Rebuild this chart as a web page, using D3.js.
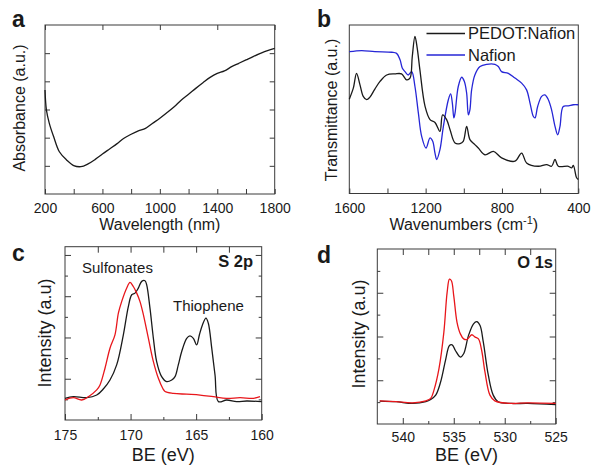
<!DOCTYPE html>
<head>
<script src="https://d3js.org/d3.v7.min.js"></script>
<meta charset="utf-8">
<style>
body { margin: 0; background: #fff; }
text { font-family: "Liberation Sans", Arial, sans-serif; fill: #1a1a1a; }
</style>
</head>
<body>
<svg id="fig"></svg>
<script>

// (a) UV-vis absorbance
var absWavelength = [200,210,230,260,300,350,400,450,500,550,600,650,700,750,800,850,900,950,1000,1050,1100,1150,1200,1250,1300,1350,1400,1450,1500,1550,1600,1650,1700,1750,1800];
var absValue = [3.69,2.98,2.51,2.04,1.50,1.21,1.01,0.97,1.07,1.23,1.42,1.60,1.78,1.98,2.12,2.24,2.33,2.51,2.69,2.89,3.10,3.34,3.54,3.75,3.95,4.14,4.28,4.37,4.52,4.64,4.76,4.88,4.99,5.09,5.17];

// (b) FTIR
var irPedotWn = [1600,1579,1562,1544,1527,1509,1492,1466,1439,1404,1361,1326,1300,1282,1270,1256,1244,1230,1203,1177,1151,1125,1111,1090,1072,1046,1020,1003,985,968,942,924,889,845,802,732,697,671,610,566,540,522,505,452,435,426,409,400];
var irPedotT = [3.36,3.75,4.28,3.87,3.46,3.34,3.43,3.72,3.99,4.22,4.26,4.26,4.05,4.11,4.88,5.59,5.17,4.40,3.10,2.63,2.53,2.21,2.80,2.63,2.27,1.80,1.78,1.86,2.39,1.92,1.74,1.62,1.38,1.50,1.27,1.15,1.44,1.09,0.97,1.03,0.97,1.21,0.97,0.97,0.91,1.00,0.56,0.50];
var irNafionWn = [1600,1535,1466,1378,1352,1334,1322,1308,1291,1273,1256,1238,1221,1198,1177,1163,1151,1142,1125,1107,1081,1069,1060,1052,1046,1029,1011,997,985,976,968,959,942,915,880,837,819,802,767,732,697,671,653,636,627,613,592,575,557,540,522,508,496,479,452,426,400];
var irNafionT = [5.05,5.09,5.05,5.03,4.99,4.76,4.46,4.34,4.22,4.34,3.81,2.86,2.04,1.62,1.98,1.86,1.44,1.21,1.56,2.39,3.34,3.55,3.22,2.69,2.86,3.81,4.14,3.99,3.57,2.80,2.98,3.69,4.22,4.52,4.60,4.60,4.52,4.34,4.28,4.11,3.93,3.69,3.22,2.75,2.69,3.10,3.46,3.51,3.34,2.98,2.39,2.09,2.39,3.10,3.12,3.16,3.16];

// (c) XPS S 2p
var s2pPedotBE = [175.0,174.36,173.35,172.58,172.08,171.57,171.06,170.55,170.17,169.91,169.66,169.41,169.15,168.90,168.77,168.52,168.26,168.01,167.63,167.25,166.86,166.61,166.36,166.10,165.72,165.47,165.21,164.96,164.75,164.52,164.25,164.07,163.81,163.56,163.30,162.67,161.91,161.14,160.0];
var s2pPedotI = [1.05,1.13,1.08,1.21,1.50,1.94,2.67,4.13,5.50,6.07,6.15,6.39,6.72,6.75,6.55,5.42,3.96,2.83,2.10,1.86,1.94,2.10,2.67,3.32,3.96,4.08,3.96,3.64,4.13,4.61,4.94,4.69,3.48,2.18,0.89,0.97,0.89,0.92,0.89];
var s2pNafionBE = [175.0,174.36,173.73,173.22,172.58,172.33,171.95,171.57,171.19,170.93,170.68,170.30,170.04,169.79,169.53,169.28,169.02,168.64,168.26,167.88,167.55,167.37,166.74,165.72,164.70,163.69,162.67,161.65,160.63,160.13];
var s2pNafionI = [0.97,1.08,0.97,1.13,1.46,1.70,2.51,3.48,4.13,5.18,5.74,6.39,6.67,6.47,6.15,5.74,5.10,3.96,2.83,2.02,1.54,1.38,1.29,1.25,1.21,1.13,1.05,1.08,1.05,1.13];

// (d) XPS O 1s
var o1sPedotBE = [542.26,540.65,539.03,537.74,537.26,536.77,536.29,535.81,535.42,535.16,534.84,534.35,534.03,533.55,533.06,532.74,532.42,532.10,531.61,531.13,530.65,529.35,527.74,525.0];
var o1sPedotI = [1.05,1.02,0.94,1.02,1.12,1.32,1.92,2.91,3.59,3.62,3.36,3.06,3.21,4.05,4.58,4.68,4.50,3.74,2.23,1.32,1.02,0.94,0.94,0.89];
var o1sNafionBE = [542.26,540.65,539.03,537.74,537.26,536.94,536.45,535.97,535.65,535.42,535.23,535.0,534.68,534.35,534.03,533.71,533.23,532.90,532.58,532.26,531.94,531.45,530.97,529.35,527.74,525.0];
var o1sNafionI = [1.06,1.02,0.97,1.06,1.17,1.55,2.53,4.20,6.02,6.62,6.55,5.86,4.65,4.12,3.89,3.86,4.08,3.97,3.89,3.36,2.38,1.32,1.06,0.94,0.97,0.94];

// tick labels
var absTicks = [200,600,1000,1400,1800];
var irTicks = [1600,1200,800,400];
var s2pTicks = [175,170,165,160];
var o1sTicks = [540,535,530,525];

var svg = d3.select("#fig").attr("width", 591).attr("height", 471);

var black = "#1a1a1a", red = "#e8161b", blue = "#2626d6", axisCol = "#3a3a3a";

function styleAxis(g, fs) {
    g.select(".domain").remove();
    g.selectAll("line").attr("stroke", axisCol);
    g.selectAll("text").attr("font-size", fs).attr("font-family", null).attr("fill", black);
}

function drawPanel(p) {
    var x = d3.scaleLinear().domain(p.xd).range(p.xr);
    var y = d3.scaleLinear().domain(p.yd).range(p.yr);
    var g = svg.append("g");

    // bottom labelled ticks
    g.append("g").attr("transform", "translate(0," + p.yr[0] + ")")
        .call(d3.axisBottom(x).tickValues(p.xlab).tickSize(-p.tl).tickPadding(p.pad).tickFormat(d3.format("d")))
        .call(styleAxis, "14px");
    if (p.xminor) {
        g.append("g").attr("transform", "translate(0," + p.yr[0] + ")")
            .call(d3.axisBottom(x).tickValues(p.xminor).tickSize(-p.tm).tickFormat(""))
            .call(styleAxis, "1px");
    }
    if (p.xtop) {
        g.append("g").attr("transform", "translate(0," + p.yr[1] + ")")
            .call(d3.axisTop(x).tickValues(p.xtop).tickSize(-p.tl).tickFormat(""))
            .call(styleAxis, "1px");
    }
    if (p.ymajor) {
        [["L", p.xr[0]], ["R", p.xr[1]]].forEach(function (s) {
            var mk = s[0] == "L" ? d3.axisLeft : d3.axisRight;
            g.append("g").attr("transform", "translate(" + s[1] + ",0)")
                .call(mk(y).tickValues(p.ymajor).tickSize(-p.tl).tickFormat(""))
                .call(styleAxis, "1px");
            if (p.yminor) {
                g.append("g").attr("transform", "translate(" + s[1] + ",0)")
                    .call(mk(y).tickValues(p.yminor).tickSize(-p.tm).tickFormat(""))
                    .call(styleAxis, "1px");
            }
        });
    }

    // frame
    g.append("rect")
        .attr("x", p.xr[0]).attr("y", p.yr[1])
        .attr("width", p.xr[1] - p.xr[0]).attr("height", p.yr[0] - p.yr[1])
        .attr("fill", "none").attr("stroke", axisCol).attr("stroke-width", 1);

    // curves
    p.series.forEach(function (s) {
        var pts = s.x.map(function (v, i) { return [v, s.y[i]]; });
        g.append("path")
            .datum(pts)
            .attr("fill", "none")
            .attr("stroke", s.color)
            .attr("stroke-width", 1.3)
            .attr("stroke-linejoin", "round")
            .attr("d", d3.line().x(function (d) { return x(d[0]); }).y(function (d) { return y(d[1]); })
                .curve(d3.curveCatmullRom.alpha(0.5)));
    });

    // panel letter
    g.append("text").attr("x", p.letter[1]).attr("y", p.letter[2])
        .attr("font-size", "23px").attr("font-weight", "bold").text(p.letter[0]);

    // axis titles
    var xt = g.append("text").attr("x", (p.xr[0] + p.xr[1]) / 2).attr("y", p.xtitleY)
        .attr("text-anchor", "middle").attr("font-size", p.tfs);
    xt.text(p.xtitle);
    if (p.xsup) {
        xt.append("tspan").attr("font-size", "11px").attr("dy", "-6").text(p.xsup);
        xt.append("tspan").attr("dy", "6").text(")");
    }
    g.append("text")
        .attr("transform", "translate(" + p.ytitle[1] + "," + p.ytitle[2] + ") rotate(-90)")
        .attr("text-anchor", "middle").attr("font-size", p.tfs).text(p.ytitle[0]);
    return g;
}

// (a)
drawPanel({
    xd: [200, 1800], xr: [45, 274.7], yd: [0, 6], yr: [194, 25],
    xlab: absTicks, xminor: [400, 800, 1200, 1600], xtop: absTicks,
    ymajor: [1, 2, 3, 4, 5], tl: 5, tm: 5, pad: 9.5,
    series: [{ x: absWavelength, y: absValue, color: black }],
    letter: ["a", 12, 27], tfs: "16px",
    xtitle: "Wavelength (nm)", xtitleY: 230,
    ytitle: ["Absorbance (a.u.)", 24.5, 108]
});

// (b)
var gb = drawPanel({
    xd: [1600, 400], xr: [349.3, 578.3], yd: [0, 6], yr: [193.5, 25],
    xlab: irTicks, xminor: [1400, 1000, 600], tl: 5, tm: 5, pad: 10,
    series: [{ x: irNafionWn, y: irNafionT, color: blue }, { x: irPedotWn, y: irPedotT, color: black }],
    letter: ["b", 317, 27], tfs: "16px",
    xtitle: "Wavenumbers (cm", xsup: "-1", xtitleY: 230,
    ytitle: ["Transmittance (a.u.)", 337, 110]
});
var legendItems = [["PEDOT:Nafion", black, 33.5], ["Nafion", blue, 55]];
legendItems.forEach(function (d) {
    gb.append("line").attr("x1", 426.5).attr("x2", 465).attr("y1", d[2]).attr("y2", d[2])
        .attr("stroke", d[1]).attr("stroke-width", 1.3);
    gb.append("text").attr("x", 468).attr("y", d[2] + 5.5).attr("font-size", "16.5px").text(d[0]);
});

// (c)
var gc = drawPanel({
    xd: [175, 160], xr: [65, 261.7], yd: [0, 8.4], yr: [420, 246.7],
    xlab: s2pTicks, xminor: [172.5, 167.5, 162.5], xtop: [172.5, 170, 167.5, 165, 162.5],
    ymajor: [2, 4, 6, 8], yminor: [1, 3, 5, 7], tl: 6, tm: 3, pad: 10,
    series: [{ x: s2pPedotBE, y: s2pPedotI, color: black }, { x: s2pNafionBE, y: s2pNafionI, color: red }],
    letter: ["c", 12, 261], tfs: "18px",
    xtitle: "BE (eV)", xtitleY: 461,
    ytitle: ["Intensity (a.u)", 51, 333]
});
gc.append("text").attr("x", 82).attr("y", 273).attr("font-size", "15px").text("Sulfonates");
gc.append("text").attr("x", 173).attr("y", 310.5).attr("font-size", "15px").text("Thiophene");
gc.append("text").attr("x", 253).attr("y", 267).attr("text-anchor", "end")
    .attr("font-size", "16.5px").attr("font-weight", "bold").text("S 2p");

// (d)
var gd = drawPanel({
    xd: [542.5, 525], xr: [377.3, 555.7], yd: [0, 8], yr: [424, 249],
    xlab: o1sTicks, xminor: [537.5, 532.5, 527.5], xtop: [540, 537.5, 535, 532.5, 530, 527.5],
    ymajor: [2, 4, 6], yminor: [1, 3, 5, 7], tl: 6, tm: 3, pad: 8,
    series: [{ x: o1sPedotBE, y: o1sPedotI, color: black }, { x: o1sNafionBE, y: o1sNafionI, color: red }],
    letter: ["d", 317, 263], tfs: "18px",
    xtitle: "BE (eV)", xtitleY: 461,
    ytitle: ["Intensity (a.u)", 365, 334]
});
gd.append("text").attr("x", 553).attr("y", 268).attr("text-anchor", "end")
    .attr("font-size", "16.5px").attr("font-weight", "bold").text("O 1s");

</script>
</body>
